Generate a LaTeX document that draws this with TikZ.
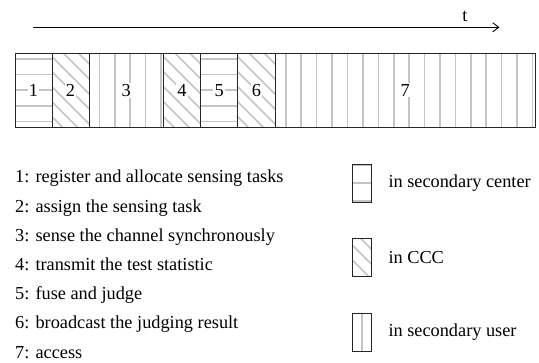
\documentclass[tikz,border=0pt]{standalone}
\usepackage{fontspec}
\setmainfont{Liberation Serif}
\usetikzlibrary{arrows.meta}
\newcommand\blbl[1]{{\setlength{\fboxsep}{1.2pt}\colorbox{white}{#1}}}
\tikzset{
  hatch/.style={draw=black!23, line width=1.6pt},
  blk/.style={draw=black!85, line width=1pt, inner sep=0pt, outer sep=0pt, minimum height=74pt},
  hz/.style={path picture={\foreach \k in {-3,...,3}
      \draw[hatch] ([yshift=\k*#1 pt,xshift=-5pt]path picture bounding box.west) -- ([yshift=\k*#1 pt,xshift=5pt]path picture bounding box.east);}},
  vt/.style={path picture={\foreach \k in {-20,...,20}
      \draw[hatch] ([xshift=\k*15.42pt+#1 pt,yshift=5pt]path picture bounding box.north) -- ([xshift=\k*15.42pt+#1 pt,yshift=-5pt]path picture bounding box.south);}},
  dg/.style={path picture={\foreach \k in {-8,...,8}
      \draw[hatch] ([xshift=\k*15pt+#1 pt]path picture bounding box.center) ++(-60pt,60pt) -- ++(120pt,-120pt);}},
  txt/.style={anchor=base west, inner sep=0pt},
}
\begin{document}
\begin{tikzpicture}[x=1pt,y=-1pt,font=\fontsize{18.3}{22}\selectfont]
\useasboundingbox (0,0) rectangle (539,363);
% time axis
\coordinate (ta) at (33.3,27.3);
\coordinate (tb) at (499.5,27.3);
\draw[line width=0.9pt,-{Straight Barb[length=6pt,width=9pt]}] (ta) -- (tb);
\node[anchor=base, inner sep=0pt] (t) at (465,21.5) {t};
% blocks
\node[blk, hz=15.7, minimum width=37pt] (b1) at (33.5,90.3) {\blbl{1}};
\node[blk, dg=0, minimum width=37pt] (b2) at (70.5,90.3) {\blbl{2}};
\node[blk, vt=4, minimum width=74.3pt] (b3) at (126.15,90.3) {\blbl{3}};
\node[blk, dg=0, minimum width=37.4pt] (b4) at (182,90.3) {\blbl{4}};
\node[blk, hz=15.7, minimum width=37pt] (b5) at (219.2,90.3) {\blbl{5}};
\node[blk, dg=0, minimum width=37.3pt] (b6) at (256.35,90.3) {\blbl{6}};
\node[blk, vt=4, minimum width=260.3pt] (b7) at (405.15,90.3) {\blbl{7}};
% descriptions
\node[txt] (d1) at (15,183) {1: register and allocate sensing tasks};
\node[txt] (d2) at (15,212.2) {2: assign the sensing task};
\node[txt] (d3) at (15,241.4) {3: sense the channel synchronously};
\node[txt] (d4) at (15,270.6) {4: transmit the test statistic};
\node[txt] (d5) at (15,299.8) {5: fuse and judge};
\node[txt] (d6) at (15,329) {6: broadcast the judging result};
\node[txt] (d7) at (15,358.3) {7: access};
% legend
\node[blk, hz=17.8, minimum width=19pt, minimum height=38pt] (l1) at (362.2,183.3) {};
\node[blk, dg=3, minimum width=19pt, minimum height=38pt] (l2) at (362.2,258) {};
\node[blk, vt=0, minimum width=19pt, minimum height=38pt] (l3) at (362.2,332.2) {};
\node[txt] (lt1) at (388.3,187.7) {in secondary center};
\node[txt] (lt2) at (388.3,263.3) {in CCC};
\node[txt] (lt3) at (388.3,337) {in secondary user};
\end{tikzpicture}
\end{document}
